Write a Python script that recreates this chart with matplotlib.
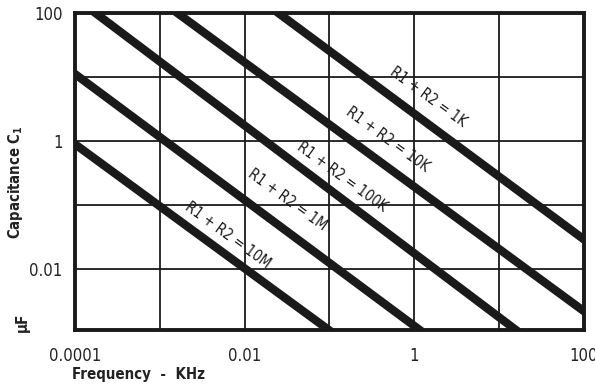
import matplotlib
matplotlib.use("Agg")
import matplotlib.pyplot as plt

# axis ticks (every decade gets a grid line, only some are labelled)
freq_ticks = [1e-4, 1e-3, 1e-2, 1e-1, 1, 10, 100]
freq_labels = ["0.0001", "", "0.01", "", "1", "", "100"]
cap_ticks = [0.01, 0.1, 1, 10, 100]
cap_labels = ["0.01", "", "1", "", "100"]

# R1 + R2 lines, two end points each (run past the frame)
line_names = ["1K", "10K", "100K", "1M", "10M"]
line_freq = [[0.0123, 200], [8.1e-4, 200], [8.7e-5, 31], [5e-5, 2.3], [5e-5, 0.19]]
line_cap = [[200, 0.0145], [195, 1.1e-3], [200, 5.6e-4], [22, 5.6e-4], [1.74, 5.8e-4]]
label_freq = [1.46, 0.49, 0.14, 0.0316, 0.0063]
label_cap = [4.9, 1.04, 0.27, 0.12, 0.034]

plt.rcParams["font.family"] = ["DejaVu Sans"]
plt.rcParams["font.stretch"] = "condensed"
plt.rcParams["mathtext.fontset"] = "custom"
plt.rcParams["mathtext.bf"] = "DejaVu Sans:bold"
plt.rcParams["mathtext.rm"] = "DejaVu Sans"

fig = plt.figure(figsize=(5.95, 3.88), dpi=100)
ax = fig.add_axes([0.126, 0.1495, 0.8555, 0.817])

ax.set_xscale("log")
ax.set_yscale("log")
ax.set_xlim(1e-4, 100)
ax.set_ylim(0.0011, 100)

ax.set_xticks(freq_ticks)
ax.set_xticklabels(freq_labels)
ax.set_yticks(cap_ticks)
ax.set_yticklabels(cap_labels)
ax.minorticks_off()
ax.tick_params(length=0, labelsize=12, colors="#222222")
ax.tick_params(axis="x", pad=12)
ax.tick_params(axis="y", pad=9)
ax.grid(True, color="#1a1a1a", lw=1.3)

for sp in ax.spines.values():
    sp.set_linewidth(2.8)
    sp.set_color("#1a1a1a")

for name, fx, cy, lx, ly in zip(line_names, line_freq, line_cap, label_freq, label_cap):
    ax.plot(fx, cy, color="#1a1a1a", lw=6, solid_capstyle="butt", zorder=3)
    ax.text(lx, ly, "R1 + R2 = " + name, rotation=-36, rotation_mode="anchor",
            ha="center", va="center", fontsize=10.5, color="#1a1a1a", zorder=4)

fig.text(72 / 595, 1 - 374 / 388, "Frequency  -  KHz", ha="left", va="center",
         fontsize=10.8, fontweight="bold", color="#222222")
fig.text(16 / 595, 1 - 182 / 388, r"Capacitance C$_\mathbf{1}$", rotation=90,
         ha="center", va="center", fontsize=10.6, fontweight="bold", color="#222222")
fig.text(22 / 595, 1 - 322 / 388, "\u00b5F", rotation=90,
         ha="center", va="center", fontsize=11, fontweight="bold", color="#222222")

fig.savefig("out.png", dpi=100)
